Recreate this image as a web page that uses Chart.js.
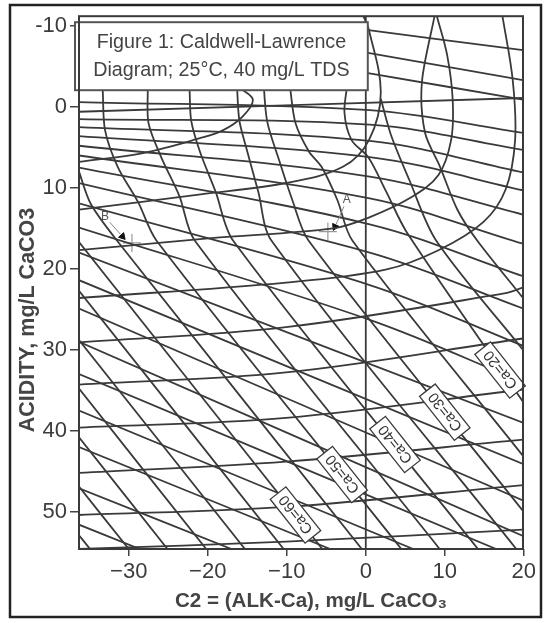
<!DOCTYPE html>
<html>
<head>
<meta charset="utf-8">
<script src="https://cdn.jsdelivr.net/npm/chart.js@4.4.1/dist/chart.umd.min.js"></script>
<style>
  html, body { margin: 0; padding: 0; background: #fff; }
  canvas { display: block; }
</style>
</head>
<body>
<canvas id="cl" width="549" height="623"></canvas>
<script>
// axis ranges and ticks
const xMin = -36.3, xMax = 19.9;
const yTop = -11.2, yBottom = 54.6;
const xTicks = [-30, -20, -10, 0, 10, 20];
const yTicks = [-10, 0, 10, 20, 30, 40, 50];

// near-horizontal lines (the upper ones hook upward on the right)
const hLines = [
  [[-36.3, 0.6], [19.9, -1.1]],
  [[-36.3, 6.8], [-28.2, 5.7], [-21.1, 3.9], [-18.1, 2.9], [-15.6, 1.2], [-14.3, -0.9], [-16.1, -2.5], [-17.5, -4.3]],
  [[-36.3, 12.7], [-20.9, 10.8], [-10.1, 9.4], [-2.9, 7.4], [0.4, 4.1], [1.9, -1.8], [0.4, -9.5], [-0.3, -11.2]],
  [[-36.3, 17.7], [-19.6, 16.2], [-4.1, 15.0], [0.3, 13.7], [5.7, 11.2], [9.2, 8.4], [10.8, 4.1], [11.0, -0.9], [10.3, -6.4], [9.0, -11.2]],
  [[-36.3, 23.6], [-10.1, 21.7], [2.5, 20.1], [9.2, 17.7], [14.9, 14.2], [17.7, 10.2], [18.9, 4.1], [18.6, -3.3], [17.3, -11.2]],
  [[-36.3, 29.1], [-10.1, 27.2], [17.7, 23.0], [19.9, 22.3]],
  [[-36.3, 34.3], [-10.1, 32.8], [19.9, 28.6]],
  [[-36.3, 39.6], [-10.1, 38.4], [19.9, 34.9]],
  [[-36.3, 45.2], [-10.1, 43.8], [19.9, 41.1]],
  [[-36.3, 50.4], [-10.1, 49.4], [19.9, 46.7]],
  [[-36.3, 54.6], [-10.1, 53.7], [19.9, 52.2]]
];

// steep lines (Ca lines); upper-left ones bend up to vertical
const steepLines = [
  [[-36.3, 52.9], [-34.9, 54.6]],
  [[-36.3, 46.9], [-30.0, 54.6]],
  [[-36.3, 40.8], [-25.1, 54.6]],
  [[-36.3, 34.8], [-20.2, 54.6]],
  [[-36.3, 28.8], [-15.3, 54.6]],
  [[-36.3, 22.7], [-10.4, 54.6]],
  [[-36.3, 16.7], [-5.5, 54.6]],
  [[-36.3, 8.0], [-34.8, 12.0], [-31.5, 16.5], [-0.5, 54.6]],
  [[-33.3, -2.1], [-33.0, 2.9], [-31.4, 7.4], [-28.8, 11.8], [-26.5, 16.5], [4.5, 54.6]],
  [[-27.6, -2.1], [-27.5, 2.0], [-25.9, 6.2], [-23.6, 11.0], [-21.65, 16.5], [9.35, 54.6]],
  [[-22.3, -2.1], [-22.1, 1.7], [-21.0, 5.5], [-19.0, 10.5], [-16.8, 16.5], [14.2, 54.6]],
  [[-16.3, -2.5], [-16.0, 1.7], [-15.0, 5.5], [-13.6, 10.5], [-11.95, 16.5], [19.05, 54.6]],
  [[-13.0, -4.0], [-12.5, 1.7], [-11.0, 6.5], [-9.3, 11.5], [-7.25, 16.5], [19.9, 49.9]],
  [[-9.6, -2.5], [-8.9, 2.0], [-7.2, 5.5], [-5.6, 7.4], [-3.6, 11.5], [-1.7, 16.5], [19.9, 43.1]],
  [[-2.3, -3.0], [-2.7, 0.7], [-1.8, 4.1], [0.3, 6.2], [2.6, 10.5], [5.2, 15.5], [19.9, 36.4]],
  [[1.9, -1.0], [3.2, 3.5], [5.5, 9.0], [8.9, 16.5], [19.9, 30.0]],
  [[8.7, -11.2], [7.1, -3.0], [7.5, 3.2], [9.4, 7.4], [11.6, 12.7], [14.1, 16.5], [19.9, 23.6]]
];

// gently falling lines fanning out to the right
const mLines = [
  [[0.1, -9.5], [19.9, -7.0]],
  [[0.1, -6.7], [19.9, -3.3]],
  [[0.1, -4.2], [19.9, -0.9]],
  [[-36.3, -0.6], [0.5, 0.4], [19.9, 3.2]],
  [[-36.3, 1.5], [0.5, 2.2], [19.9, 5.3]],
  [[-36.3, 2.5], [0.5, 4.2], [19.9, 8.1]],
  [[-36.3, 3.6], [0.5, 6.2], [19.9, 10.3]],
  [[-36.3, 4.8], [0.5, 8.6], [19.9, 13.3]],
  [[-36.3, 6.0], [0.5, 11.3], [19.9, 16.9]],
  [[-36.3, 7.5], [0.5, 14.5], [19.9, 20.9]],
  [[-36.3, 9.4], [0.5, 18.0], [19.9, 24.9]],
  [[-36.3, 11.9], [0.5, 22.0], [19.9, 29.5]],
  [[-36.3, 14.9], [0.5, 26.3], [19.9, 34.0]],
  [[-36.3, 18.0], [19.9, 39.0]],
  [[-36.3, 21.4], [19.9, 44.1]],
  [[-36.3, 24.9], [19.9, 48.6]],
  [[-36.3, 29.0], [19.9, 53.0]],
  [[-36.3, 33.0], [16.5, 54.6]],
  [[-36.3, 37.5], [6.0, 54.6]],
  [[-36.3, 42.0], [-4.5, 54.6]],
  [[-36.3, 47.1], [-17.0, 54.6]],
  [[-36.3, 51.6], [-28.6, 54.6]]
];

const zeroLine = [[0, -11.2], [0, 54.6]];

// Ca labels sit on the steep lines
const caNames = ['Ca=20', 'Ca=30', 'Ca=40', 'Ca=50', 'Ca=60'];
const caX = [17.0, 10.0, 3.7, -3.0, -8.9];
const caY = [32.5, 37.7, 41.7, 45.4, 50.4];
const caSlope = 1.23;

// sample points A and B
const markNames = ['B', 'A'];
const markX = [-29.6, -4.8];
const markY = [16.8, 15.4];
const arrowX = [-30.8, -3.9];
const arrowY = [16.0, 14.8];
const arrowRot = [138, 204];
const letterX = [-33.0, -2.4];
const letterY = [13.6, 11.5];

const titleLines = ['Figure 1: Caldwell-Lawrence', 'Diagram; 25\u00B0C, 40 mg/L TDS'];
const xTitle = 'C2 = (ALK-Ca), mg/L CaCO\u2083';
const yTitle = 'ACIDITY, mg/L CaCO3';

const INK = '#3a3a3a';
const FONT = "'Liberation Sans', Arial, Helvetica, sans-serif";

function lineSet(pts, tension) {
  return {
    data: pts.map(p => ({x: p[0], y: p[1]})),
    showLine: true,
    borderColor: INK,
    borderWidth: 1.8,
    pointRadius: 0,
    tension: tension,
    fill: false
  };
}

let datasets = [];
hLines.forEach(l => datasets.push(lineSet(l, 0.35)));
steepLines.forEach(l => datasets.push(lineSet(l, 0.3)));
mLines.forEach(l => datasets.push(lineSet(l, 0.35)));
datasets.push(lineSet(zeroLine, 0));

datasets.push({
  data: markX.map((x, i) => ({x: x, y: markY[i]})),
  pointStyle: 'cross', pointRadius: 9, borderColor: '#9a9a9a', borderWidth: 1.2, showLine: false
});
datasets.push({
  data: arrowX.map((x, i) => ({x: x, y: arrowY[i]})),
  pointStyle: 'triangle', pointRadius: 4, rotation: arrowRot,
  backgroundColor: '#111', borderColor: '#111', borderWidth: 1, showLine: false
});

function fitFont(ctx, text, width, weight) {
  ctx.font = weight + ' 20px ' + FONT;
  let w = ctx.measureText(text).width;
  return 20 * width / w;
}

const decor = {
  id: 'decor',
  afterDatasetsDraw(chart) {
    const ctx = chart.ctx;
    const xs = chart.scales.x, ys = chart.scales.y;
    const a = chart.chartArea;

    // leader lines and letters for A / B
    ctx.save();
    ctx.strokeStyle = '#888';
    ctx.lineWidth = 1;
    ctx.fillStyle = '#555';
    ctx.font = '12px ' + FONT;
    ctx.textAlign = 'center';
    ctx.textBaseline = 'middle';
    markNames.forEach((n, i) => {
      let lx = xs.getPixelForValue(letterX[i]), ly = ys.getPixelForValue(letterY[i]);
      let ax = xs.getPixelForValue(arrowX[i]), ay = ys.getPixelForValue(arrowY[i]);
      let dx = ax - lx, dy = ay - ly, d = Math.hypot(dx, dy);
      ctx.beginPath();
      ctx.moveTo(lx + dx / d * 7, ly + dy / d * 7);
      ctx.lineTo(ax - dx / d * 3, ay - dy / d * 3);
      ctx.stroke();
      ctx.fillText(n, lx, ly);
    });
    ctx.restore();

    // Ca labels, rotated along their line
    let p0x = xs.getPixelForValue(0), p0y = ys.getPixelForValue(0);
    let p1x = xs.getPixelForValue(1), p1y = ys.getPixelForValue(caSlope);
    let ang = Math.atan2(p1y - p0y, p1x - p0x) + Math.PI;
    caNames.forEach((n, i) => {
      let cx = xs.getPixelForValue(caX[i]), cy = ys.getPixelForValue(caY[i]);
      ctx.save();
      ctx.translate(cx, cy);
      ctx.rotate(ang);
      ctx.fillStyle = '#fff';
      ctx.strokeStyle = INK;
      ctx.lineWidth = 1.3;
      ctx.fillRect(-28, -10, 56, 20);
      ctx.strokeRect(-28, -10, 56, 20);
      ctx.fillStyle = '#333';
      ctx.font = '15px ' + FONT;
      ctx.textAlign = 'center';
      ctx.textBaseline = 'middle';
      ctx.fillText(n, 0, 1);
      ctx.restore();
    });

    // title box
    let bx = a.left - 4, by = a.top + 6, bw = xs.getPixelForValue(0) + 2 - bx, bh = 68;
    ctx.save();
    ctx.fillStyle = '#fff';
    ctx.fillRect(bx, by, bw, bh);
    ctx.strokeStyle = '#555';
    ctx.lineWidth = 2;
    ctx.strokeRect(bx, by, bw, bh);
    let fs = fitFont(ctx, titleLines[0], 250, 'normal');
    ctx.font = fs.toFixed(1) + 'px ' + FONT;
    ctx.fillStyle = '#444';
    ctx.textAlign = 'center';
    ctx.textBaseline = 'middle';
    ctx.fillText(titleLines[0], bx + bw / 2, by + 20);
    ctx.fillText(titleLines[1], bx + bw / 2, by + 48);
    ctx.restore();

    // plot frame and outer frame
    ctx.save();
    ctx.strokeStyle = INK;
    ctx.lineWidth = 2;
    ctx.strokeRect(a.left, a.top, a.right - a.left, a.bottom - a.top);
    ctx.strokeStyle = '#222';
    ctx.lineWidth = 2.5;
    ctx.strokeRect(10, 5, 531, 612);
    ctx.restore();

    // axis titles
    ctx.save();
    ctx.fillStyle = '#444';
    ctx.textAlign = 'center';
    ctx.textBaseline = 'middle';
    let fx = fitFont(ctx, xTitle, 272, 'bold');
    ctx.font = 'bold ' + fx.toFixed(1) + 'px ' + FONT;
    ctx.fillText(xTitle, 311, 601);
    let fy = fitFont(ctx, yTitle, 225, 'bold');
    ctx.font = 'bold ' + fy.toFixed(1) + 'px ' + FONT;
    ctx.translate(28, 320);
    ctx.rotate(-Math.PI / 2);
    ctx.fillText(yTitle, 0, 0);
    ctx.restore();
  }
};

const tickFont = {family: FONT, size: 22};

new Chart(document.getElementById('cl'), {
  type: 'scatter',
  data: {datasets: datasets},
  options: {
    responsive: false,
    animation: false,
    events: [],
    layout: {padding: {top: 16, right: 26, left: 0, bottom: 0}},
    plugins: {legend: {display: false}, tooltip: {enabled: false}},
    scales: {
      x: {
        type: 'linear', min: xMin, max: xMax,
        afterBuildTicks: s => { s.ticks = xTicks.map(v => ({value: v})); },
        afterFit: s => { s.height = 74; },
        ticks: {font: tickFont, color: '#3c3c3c', padding: 3, maxRotation: 0, autoSkip: false,
          callback: v => String(v).replace('-', '\u2212')},
        grid: {drawOnChartArea: false, drawTicks: true, tickLength: 7, color: '#444', lineWidth: 1.5},
        border: {display: false}
      },
      y: {
        type: 'linear', reverse: true, min: yTop, max: yBottom,
        afterBuildTicks: s => { s.ticks = yTicks.map(v => ({value: v})); },
        afterFit: s => { s.width = 79; },
        ticks: {font: tickFont, color: '#3c3c3c', padding: 3, autoSkip: false},
        grid: {drawOnChartArea: false, drawTicks: true, tickLength: 9, color: '#444', lineWidth: 1.5},
        border: {display: false}
      }
    }
  },
  plugins: [decor]
});
</script>
</body>
</html>
